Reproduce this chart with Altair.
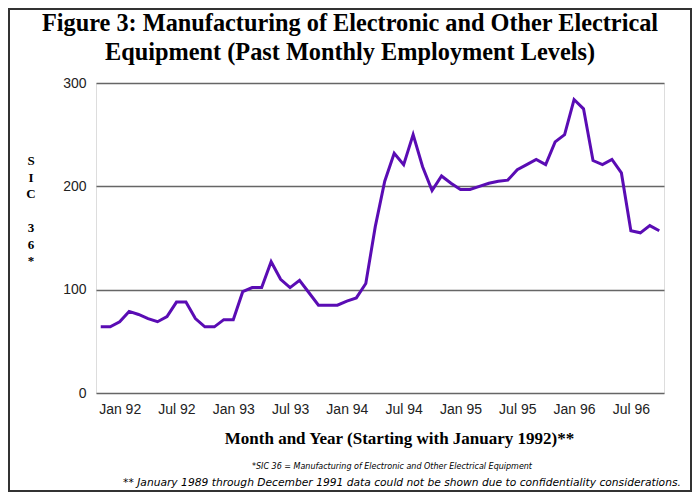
import json
import altair as alt
import pandas as pd

# Monthly employment levels, one value per month
employment = [64, 64, 69, 79, 76, 72, 69, 74, 88, 88, 72, 64, 64, 71, 71, 98, 102, 102, 127, 110,
              102, 109, 97, 85, 85, 85, 89, 92, 106, 161, 205, 232, 221, 250, 219, 196, 210, 203,
              197, 197, 200, 203, 205, 206, 216, 221, 226, 221, 243, 250, 284, 275, 225, 221, 226,
              213, 157, 155, 162, 157]
month_index = list(range(len(employment)))

# x-axis tick labels and the month index they sit under
tick_index = [2, 8, 14, 20, 26, 32, 38, 44, 50, 56]
tick_labels = ["Jan 92", "Jul 92", "Jan 93", "Jul 93", "Jan 94",
               "Jul 94", "Jan 95", "Jul 95", "Jan 96", "Jul 96"]
y_ticks = [0, 100, 200, 300]

title_lines = ["Figure 3:  Manufacturing of Electronic and Other Electrical",
               "Equipment (Past Monthly Employment Levels)"]
y_title_blocks = [["S", "I", "C"], ["3", "6", "*"]]
x_title = "Month and Year (Starting with January 1992)**"
footnotes = ["*SIC 36 = Manufacturing of Electronic and Other Electrical Equipment",
             "**  January 1989 through December 1991 data could not be shown due to confidentiality considerations."]

df = pd.DataFrame({"idx": month_index, "value": employment})

W, H = 568, 310
label_expr = json.dumps(tick_labels) + "[round((datum.value - 2) / 6)]"

line = alt.Chart(df).mark_line(color="#5a0cb4", strokeWidth=3).encode(
    x=alt.X("idx:Q",
            scale=alt.Scale(domain=[-0.5, len(employment) - 0.5], nice=False, zero=False),
            axis=alt.Axis(values=tick_index, labelExpr=label_expr, ticks=False, domain=False,
                          grid=False, labelPadding=9, labelFontSize=14, labelFont="Liberation Sans",
                          labelColor="#222", title=x_title, titleFont="Liberation Serif",
                          titleFontSize=17, titleFontWeight="bold", titleColor="black",
                          titleX=303, titleY=45, titleBaseline="middle", titleAlign="center")),
    y=alt.Y("value:Q",
            scale=alt.Scale(domain=[0, 300], nice=False),
            axis=alt.Axis(values=y_ticks, ticks=False, domain=False, grid=True,
                          gridColor="#666", gridWidth=1.5, labelPadding=10, labelFontSize=14,
                          labelFont="Liberation Sans", labelColor="#222", title=None)),
)

frame = alt.Chart(alt.Data(values=[{}])).mark_rect(
    filled=False, stroke="#333", strokeWidth=2
).encode(x=alt.value(-87), x2=alt.value(W + 27), y=alt.value(-74), y2=alt.value(H + 98))

title = alt.Chart(alt.Data(values=[{"t": "\n".join(title_lines)}])).mark_text(
    font="Liberation Serif", fontSize=24.3, fontWeight="bold", color="black", align="center",
    baseline="alphabetic", lineBreak="\n", lineHeight=29, x=254, y=-52
).encode(text="t:N")

ytitle_layers = []
for block, cy in zip(y_title_blocks, [78, 145]):
    ytitle_layers.append(
        alt.Chart(alt.Data(values=[{"t": "\n".join(block)}])).mark_text(
            font="Liberation Serif", fontSize=13, fontWeight="bold", color="black",
            align="center", baseline="middle", lineBreak="\n", lineHeight=16.7, x=-65, y=cy
        ).encode(text="t:N")
    )

note1 = alt.Chart(alt.Data(values=[{"t": footnotes[0]}])).mark_text(
    font="DejaVu Sans", fontStyle="italic", fontSize=8, color="black", align="center",
    baseline="middle", x=296, y=384
).encode(text="t:N")

note2 = alt.Chart(alt.Data(values=[{"t": footnotes[1]}])).mark_text(
    font="DejaVu Sans", fontStyle="italic", fontSize=10.7, color="black", align="center",
    baseline="middle", x=306, y=400
).encode(text="t:N")

chart = alt.layer(line, frame, title, *ytitle_layers, note1, note2).properties(
    width=W, height=H,
    autosize=alt.AutoSizeParams(type="none"),
    padding={"left": 88, "top": 75, "right": 28, "bottom": 99},
).configure_view(stroke="black", strokeWidth=1.5).configure(background="white")

chart.save("out.html", embed_options={"renderer": "svg", "actions": False})
